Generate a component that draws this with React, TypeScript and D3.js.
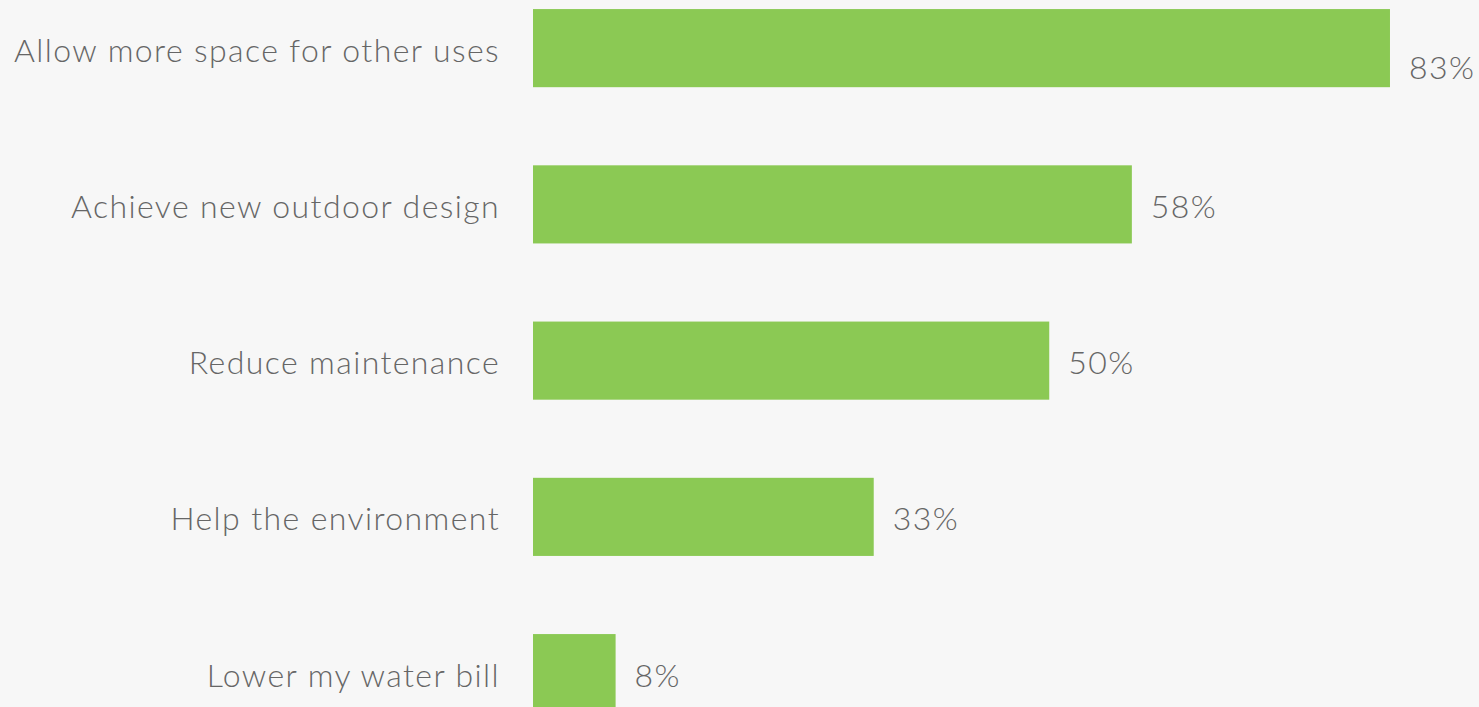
import React from "react";
import * as d3 from "d3";

const categories = [
  "Allow more space for other uses",
  "Achieve new outdoor design",
  "Reduce maintenance",
  "Help the environment",
  "Lower my water bill",
];
const values = [83, 58, 50, 33, 8];
const valueLabels = ["83%", "58%", "50%", "33%", "8%"];

const W = 1479;
const H = 707;
const BG = "#f7f7f7";
const BAR = "#8bc954";
const TEXT = "#666666";
const FONT = "Lato, 'Open Sans', sans-serif";

export default function App() {
  const x = d3.scaleLinear().domain([0, 100]).range([533, 533 + 1032.5]);
  const y = d3
    .scaleBand<string>()
    .domain(categories)
    .range([-30, 751.25])
    .paddingInner(0.5)
    .paddingOuter(0.25);

  return (
    <div style={{ position: "absolute", left: 0, top: 0 }}>
      <svg width={W} height={H} style={{ display: "block", background: BG }}>
        <rect x={0} y={0} width={W} height={H} fill={BG} />
        {categories.map((c, i) => {
          const yc = (y(c) as number) + y.bandwidth() / 2;
          const xe = x(values[i]);
          const lowered = xe + 90 > W;
          return (
            <g key={c}>
              <rect
                x={x(0)}
                y={y(c) as number}
                width={xe - x(0)}
                height={y.bandwidth()}
                fill={BAR}
              />
              <text
                x={500}
                y={yc}
                dy="0.42em"
                textAnchor="end"
                fontFamily={FONT}
                fontWeight={300}
                fontSize={32}
                letterSpacing={1.4}
                fill={TEXT}
              >
                {c}
              </text>
              <text
                x={xe + 19}
                y={yc + (lowered ? 17 : 0)}
                dy="0.42em"
                textAnchor="start"
                fontFamily={FONT}
                fontWeight={300}
                fontSize={32}
                letterSpacing={1.4}
                fill={TEXT}
              >
                {valueLabels[i]}
              </text>
            </g>
          );
        })}
      </svg>
    </div>
  );
}
